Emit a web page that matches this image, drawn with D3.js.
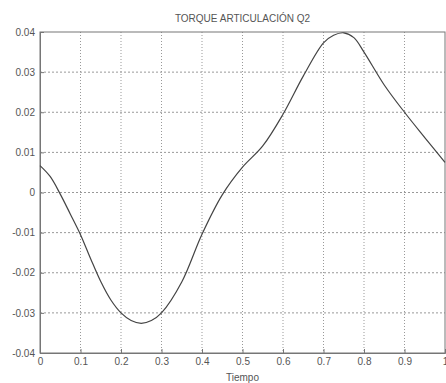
<!DOCTYPE html>
<html>
<head>
<meta charset="utf-8">
<script src="https://cdn.jsdelivr.net/npm/d3@7"></script>
<style>
  body { margin: 0; background: #fff; }
  text { font-family: "Liberation Sans", Arial, sans-serif; fill: #555; }
</style>
</head>
<body>
<div id="chart"></div>
<script>
// data
var tiempo = [0, 0.025, 0.05, 0.075, 0.1, 0.125, 0.15, 0.175, 0.2, 0.225, 0.25, 0.275, 0.3, 0.35, 0.4, 0.45,
              0.5, 0.55, 0.6, 0.65, 0.7, 0.725, 0.75, 0.775, 0.8, 0.85, 0.9, 0.95, 1.0];
var torque = [0.0067, 0.0040, -0.0004, -0.0054, -0.0105, -0.0165, -0.0222, -0.0268, -0.0300, -0.0319, -0.0326, -0.0319, -0.0300, -0.0223, -0.0104, -0.0006,
              0.0063, 0.0116, 0.0195, 0.0290, 0.0373, 0.0392, 0.0398, 0.0386, 0.0350, 0.0268, 0.0200, 0.0137, 0.0075];
var xTicks = [0, 0.1, 0.2, 0.3, 0.4, 0.5, 0.6, 0.7, 0.8, 0.9, 1];
var yTicks = [-0.04, -0.03, -0.02, -0.01, 0, 0.01, 0.02, 0.03, 0.04];

var margin = {top: 32, bottom: 30, left: 40, right: 1},
	width = 446 - margin.left - margin.right,
	height = 383 - margin.top - margin.bottom;

var svg = d3.select("#chart").append("svg")
		.attr("width", 446)
		.attr("height", 383)
	.append("g")
		.attr("transform", "translate(" + margin.left + ", " + margin.top + ")");

var xScale = d3.scaleLinear().range([0, width]).domain([0, 1]);
var yScale = d3.scaleLinear().range([height, 0]).domain([-0.04, 0.04]);

// dotted grid
svg.selectAll(".gx").data(xTicks.slice(1, -1)).enter().append("line")
		.attr("x1", function(d) { return xScale(d); })
		.attr("x2", function(d) { return xScale(d); })
		.attr("y1", 0).attr("y2", height)
		.style("stroke", "#999").style("stroke-dasharray", "1,2");
svg.selectAll(".gy").data(yTicks.slice(1, -1)).enter().append("line")
		.attr("y1", function(d) { return yScale(d); })
		.attr("y2", function(d) { return yScale(d); })
		.attr("x1", 0).attr("x2", width)
		.style("stroke", "#999").style("stroke-dasharray", "2,2");

// axes
var fmt = function(d) { return d === 0 ? "0" : String(+d.toFixed(2)); };
svg.append("g")
		.attr("transform", "translate(0," + height + ")")
		.call(d3.axisBottom(xScale).tickValues(xTicks).tickSize(-4).tickPadding(5).tickFormat(fmt));
svg.append("g")
		.call(d3.axisLeft(yScale).tickValues(yTicks).tickSize(-4).tickPadding(5).tickFormat(fmt));
svg.selectAll(".domain").style("stroke", "#777");
svg.selectAll(".tick line").style("stroke", "#777");
svg.selectAll(".tick text").style("font-size", "10px").style("fill", "#555");

// box
svg.append("rect")
		.attr("width", width).attr("height", height)
		.style("fill", "none").style("stroke", "#777");

// curve
var line = d3.line()
		.x(function(d, i) { return xScale(tiempo[i]); })
		.y(function(d) { return yScale(d); })
		.curve(d3.curveCatmullRom.alpha(0.5));
svg.append("path")
		.datum(torque)
		.attr("d", line)
		.style("fill", "none")
		.style("stroke", "#444")
		.style("stroke-width", 1.2);

svg.append("text")
		.attr("x", width / 2).attr("y", -10)
		.attr("text-anchor", "middle")
		.style("font-size", "10px")
		.text("TORQUE ARTICULACIÓN Q2");
svg.append("text")
		.attr("x", width / 2).attr("y", height + 28)
		.attr("text-anchor", "middle")
		.style("font-size", "10px")
		.text("Tiempo");
</script>
</body>
</html>
